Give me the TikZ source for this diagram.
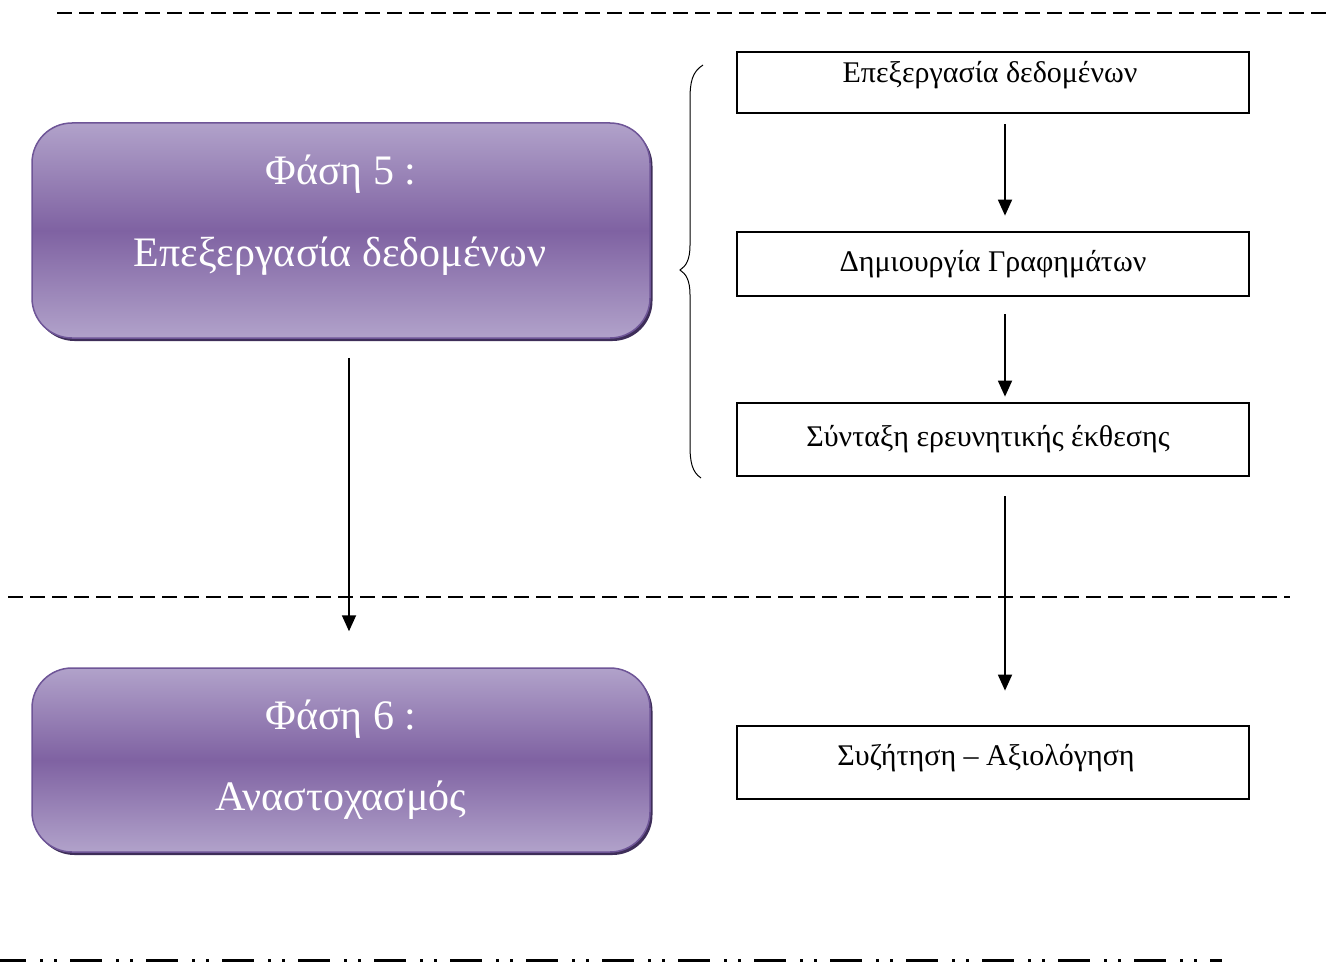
\documentclass[tikz,border=0pt]{standalone}
\usepackage{fontspec}
\setmainfont{Liberation Serif}
\usetikzlibrary{arrows.meta,shadows}
\definecolor{plight}{HTML}{B1A2CA}
\definecolor{pdark}{HTML}{7F62A2}
\definecolor{pborder}{HTML}{6E5597}
\definecolor{pshadow}{HTML}{3E2E59}
\begin{document}
\begin{tikzpicture}[x=1pt,y=-1pt,
  phase/.style={draw=pborder, line width=1.5pt, rounded corners=40pt,
    top color=plight, bottom color=plight, middle color=pdark,
    minimum width=618pt, inner sep=0pt,
    drop shadow={shadow xshift=2.5pt, shadow yshift=-3pt, fill=pshadow, opacity=1}},
  ptext/.style={text=white, font=\fontsize{42}{48}\selectfont, anchor=base, inner sep=0pt},
  stepbox/.style={draw, line width=2.8pt, minimum width=512pt, inner sep=0pt},
  steptext/.style={font=\fontsize{30}{36}\selectfont, anchor=base, inner sep=0pt},
  arr/.style={line width=1.8pt, -{Triangle[length=16pt,width=14pt]}},
  thinbrace/.style={line width=1pt}
]
\useasboundingbox (0,0) rectangle (1333,963);

% separator lines
\draw[line width=2pt, dash pattern=on 15pt off 7pt] (57,13) -- (1333,13);
\draw[line width=2pt, dash pattern=on 15pt off 7pt] (8,597) -- (1290,597);
\draw[line width=3pt, dash pattern=on 32pt off 14pt on 3pt off 11pt on 3pt off 13pt, dash phase=6pt] (0,960) -- (1222,960);

% phase boxes
\node[phase, minimum height=215pt] (p5) at (341,230.5) {};
\node[ptext] (p5a) at (341,184) {Φάση 5 :};
\node[ptext] (p5b) at (340,266) {Επεξεργασία δεδομένων};

\node[phase, minimum height=184pt] (p6) at (341,760) {};
\node[ptext] (p6a) at (341,729) {Φάση 6 :};
\node[ptext] (p6b) at (341,810) {Αναστοχασμός};

% step boxes
\node[stepbox, minimum height=61pt] (sa) at (993,82.5) {};
\node[steptext] (sat) at (990,83) {Επεξεργασία δεδομένων};
\node[stepbox, minimum height=64pt] (sb) at (993,264) {};
\node[steptext] (sbt) at (993,271) {Δημιουργία Γραφημάτων};
\node[stepbox, minimum height=73pt] (sc) at (993,439.5) {};
\node[steptext] (sct) at (988,446) {Σύνταξη ερευνητικής έκθεσης};
\node[stepbox, minimum height=73pt] (sd) at (993,762.5) {};
\node[steptext] (sdt) at (986,765) {Συζήτηση – Αξιολόγηση};

% arrows
\draw[arr, shorten <=10pt, shorten >=15pt] ([xshift=12pt]sa.south) -- ([xshift=12pt]sb.north);
\draw[arr, shorten <=17pt, shorten >=5pt] ([xshift=12pt]sb.south) -- ([xshift=12pt]sc.north);
\draw[arr, shorten <=19pt, shorten >=34pt] ([xshift=12pt]sc.south) -- ([xshift=12pt]sd.north);
\draw[arr, shorten <=19pt, shorten >=36pt] ([xshift=8pt]p5.south) -- ([xshift=8pt]p6.north);

% brace
\draw[thinbrace] (703,65) .. controls (692,72) and (690,82) .. (690,100)
  -- (690,245) .. controls (690,260) and (686,266) .. (680,270)
  .. controls (686,274) and (690,280) .. (690,295)
  -- (690,445) .. controls (690,462) and (692,472) .. (701,478);
\end{tikzpicture}
\end{document}
